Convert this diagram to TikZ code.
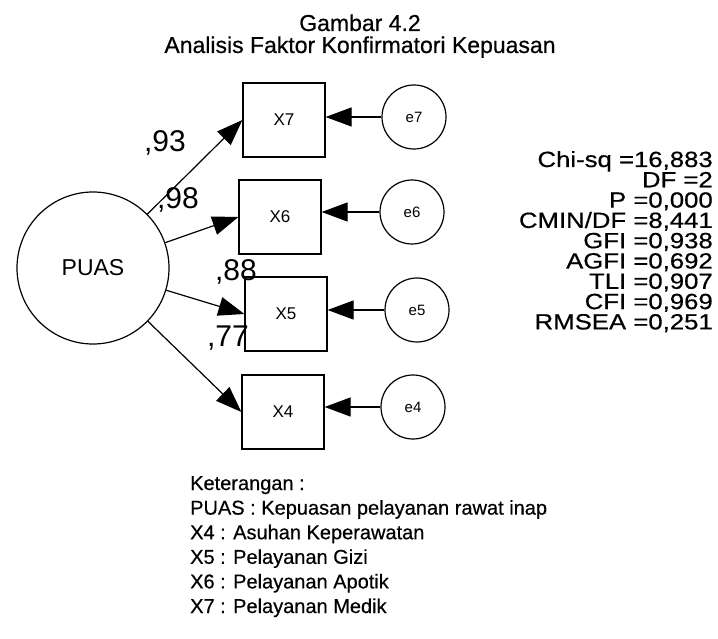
\documentclass[tikz,border=0pt]{standalone}
\usepackage{fontspec}
\setmainfont[FakeBold=0.5]{Liberation Sans}
\newfontfamily\lightsans{Liberation Sans}
\newfontfamily\statfont[FakeStretch=1.17,FakeBold=0.5]{Liberation Sans}
\usetikzlibrary{arrows.meta}
\begin{document}
\begin{tikzpicture}[x=1pt,y=-1pt,
  obs/.style={draw, line width=1.2pt, minimum width=82pt, minimum height=74pt, inner sep=0pt, font=\lightsans\fontsize{17}{17}\selectfont},
  err/.style={draw, circle, line width=1.2pt, minimum size=64pt, inner sep=0pt, font=\lightsans\fontsize{15}{15}\selectfont},
  lat/.style={draw, circle, line width=1.2pt, minimum size=152pt, inner sep=0pt, font=\lightsans\fontsize{23}{23}\selectfont},
  ldarrow/.style={line width=1.2pt, -{Triangle[length=26pt,width=19pt]}},
  loadlbl/.style={font=\lightsans\fontsize{30}{30}\selectfont, inner sep=0pt},
  stat/.style={anchor=base east, inner sep=0pt, font=\statfont\fontsize{22}{22}\selectfont},
  leg/.style={anchor=base west, inner sep=0pt, font=\fontsize{20}{20}\selectfont},
  ttl/.style={anchor=base, inner sep=0pt, font=\fontsize{23}{23}\selectfont},
]
\useasboundingbox[fill=white] (0,0) rectangle (718,639);

% title
\node[ttl] (t1) at (360,31) {Gambar 4.2};
\node[ttl] (t2) at (360,53) {Analisis Faktor Konfirmatori Kepuasan};

% latent
\node[lat] (puas) at (93,268) {PUAS};

% observed
\node[obs] (x7) at (284,120) {X7};
\node[obs] (x6) at (280,217) {X6};
\node[obs] (x5) at (286,314) {X5};
\node[obs] (x4) at (283,412) {X4};

% errors
\node[err] (e7) at (414,117) {e7};
\node[err] (e6) at (412,212) {e6};
\node[err] (e5) at (417,310) {e5};
\node[err] (e4) at (413,407) {e4};

% loadings
\draw[ldarrow] (puas) -- (x7.west);
\draw[ldarrow] (puas) -- (x6.west);
\draw[ldarrow] (puas) -- (x5.west);
\draw[ldarrow] (puas) -- (x4.west);

% error paths
\draw[ldarrow] (e7.west) -- (e7.west -| x7.east);
\draw[ldarrow] (e6.west) -- (e6.west -| x6.east);
\draw[ldarrow] (e5.west) -- (e5.west -| x5.east);
\draw[ldarrow] (e4.west) -- (e4.west -| x4.east);

% loading labels
\node[loadlbl] (l7) at (165,143) {,93};
\node[loadlbl] (l6) at (178,200) {,98};
\node[loadlbl] (l5) at (236,272) {,88};
\node[loadlbl] (l4) at (228,338) {,77};

% fit statistics
\node[stat] (s1) at (713,167) {Chi-sq =16,883};
\node[stat] (s2) at (713,187.3) {DF =2};
\node[stat] (s3) at (713,207.6) {P =0,000};
\node[stat] (s4) at (713,227.9) {CMIN/DF =8,441};
\node[stat] (s5) at (713,248.2) {GFI =0,938};
\node[stat] (s6) at (713,268.5) {AGFI =0,692};
\node[stat] (s7) at (713,288.8) {TLI =0,907};
\node[stat] (s8) at (713,309.1) {CFI =0,969};
\node[stat] (s9) at (713,329.4) {RMSEA =0,251};

% legend
\node[leg] (k0) at (190,490) {Keterangan :};
\node[leg] (k1) at (190,514.6) {PUAS : Kepuasan pelayanan rawat inap};
\node[leg] (k2) at (190,539.2) {X4 : Asuhan Keperawatan};
\node[leg] (k3) at (190,563.8) {X5 : Pelayanan Gizi};
\node[leg] (k4) at (190,588.4) {X6 : Pelayanan Apotik};
\node[leg] (k5) at (190,613) {X7 : Pelayanan Medik};
\end{tikzpicture}
\end{document}
